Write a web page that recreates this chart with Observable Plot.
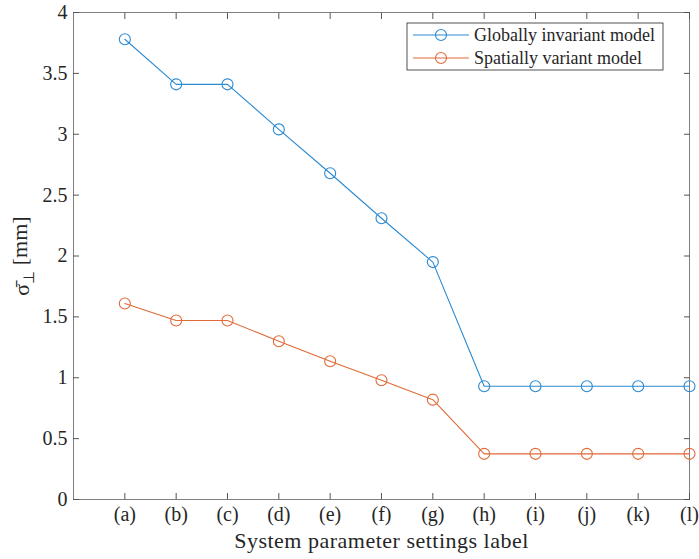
<!DOCTYPE html>
<html><head><meta charset="utf-8">
<script src="https://cdn.jsdelivr.net/npm/d3@7"></script>
<script src="https://cdn.jsdelivr.net/npm/@observablehq/plot@0.6"></script>
<style>body{margin:0;background:#fff}</style>
</head><body><div id="chart"></div>
<script>
const categories = ["(a)","(b)","(c)","(d)","(e)","(f)","(g)","(h)","(i)","(j)","(k)","(l)"];
const globalValues = [3.78,3.41,3.41,3.04,2.68,2.31,1.95,0.93,0.93,0.93,0.93,0.93];
const spatialValues = [1.61,1.47,1.47,1.30,1.135,0.98,0.82,0.375,0.375,0.375,0.375,0.375];
const seriesNames = ["Globally invariant model","Spatially variant model"];
const seriesColors = ["#2a8ad2","#e06a38"];
const yTicks = [0,0.5,1,1.5,2,2.5,3,3.5,4];
const xPositions = categories.map((_, i) => i + 1);

const rows = [];
categories.forEach((c, i) => {
  rows.push({pos: i + 1, label: c, value: globalValues[i], series: seriesNames[0]});
});
categories.forEach((c, i) => {
  rows.push({pos: i + 1, label: c, value: spatialValues[i], series: seriesNames[1]});
});

const W = 699, H = 559, mL = 73, mR = 10, mT = 12, mB = 60;
const chart = Plot.plot({
  width: W, height: H,
  marginLeft: mL, marginRight: mR, marginTop: mT, marginBottom: mB,
  style: {fontFamily: "'Liberation Serif', serif", fontSize: "20px", color: "#262626", background: "#fff"},
  x: {domain: [0, 12]},
  y: {domain: [0, 4]},
  color: {domain: seriesNames, range: seriesColors},
  marks: [
    Plot.frame({stroke: "#808080", strokeWidth: 1}),
    Plot.axisX({ticks: xPositions, tickFormat: i => categories[i - 1], tickSize: -6, tickPadding: 13,
      stroke: "#555",
      label: "System parameter settings label", labelAnchor: "center", labelArrow: "none", labelOffset: 48}),
    Plot.axisX({anchor: "top", ticks: xPositions, tickFormat: () => "", tickSize: -6, stroke: "#555", label: null}),
    Plot.axisY({ticks: yTicks, tickFormat: d => String(d), tickSize: -6, tickPadding: 12, stroke: "#555",
      label: "σ̄⊥ [mm]", labelAnchor: "center", labelArrow: "none", labelOffset: 60}),
    Plot.axisY({anchor: "right", ticks: yTicks, tickFormat: () => "", tickSize: -6, stroke: "#555", label: null}),
    Plot.line(rows, {x: "pos", y: "value", z: "series", stroke: "series", strokeWidth: 1.1}),
    Plot.dot(rows, {x: "pos", y: "value", stroke: "series", r: 5.5, strokeWidth: 1.1, fill: "none"})
  ]
});
document.getElementById("chart").appendChild(chart);

const svg = d3.select(chart);
// x label size
svg.select('g[aria-label="x-axis label"] text')
  .attr("font-size", "22px").attr("letter-spacing", "0.5px");
// y label with subscript
const yl = svg.select('g[aria-label="y-axis label"] text');
if (!yl.empty()) {
  yl.text(null).attr("font-size", "22px");
  yl.append("tspan").text("σ̄");
  yl.append("tspan").attr("dy", "0.3em").attr("font-size", "15px").text("⊥");
  yl.append("tspan").attr("dy", "-0.3em").text(" [mm]");
}

// legend
const lg = svg.append("g").attr("font-family", "'Liberation Serif', serif").attr("font-size", "18px")
  .attr("fill", "#262626").attr("text-anchor", "start");
const lx = 407, ly = 23, lw = 256, lh = 47;
lg.append("rect").attr("x", lx).attr("y", ly).attr("width", lw).attr("height", lh)
  .attr("fill", "#fff").attr("stroke", "#262626").attr("stroke-width", 0.8);
seriesNames.forEach((name, i) => {
  const cy = 35 + i * 23;
  lg.append("line").attr("x1", 413).attr("x2", 469).attr("y1", cy).attr("y2", cy)
    .attr("stroke", seriesColors[i]).attr("stroke-width", 1.1);
  lg.append("circle").attr("cx", 441).attr("cy", cy).attr("r", 5.5)
    .attr("fill", "none").attr("stroke", seriesColors[i]).attr("stroke-width", 1.1);
  lg.append("text").attr("x", 474).attr("y", cy).attr("dy", "0.33em").attr("text-anchor", "start").text(name);
});
</script>
</body></html>
